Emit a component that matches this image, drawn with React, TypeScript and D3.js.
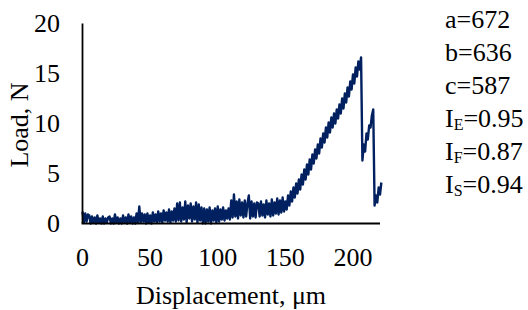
import React from "react";
import * as d3 from "d3";

const loadSeg0_44 = [
  1.2, 0.1, 1.0, 0.2, 0.9,
  0.8, 0.0, 0.7, 0.1, 0.6, 0.0, 0.8, 0.1, 0.5, 0.0, 0.7, 0.0, 0.5, 0.1, 0.6,
  0.7, 0.0, 0.5, 0.0, 0.9, 0.1, 0.6, 0.0, 0.5, 0.0, 0.8, 0.1, 0.6, 0.0, 0.9,
  0.1, 0.7, 0.0, 0.6, 0.0, 1.0, 0.1, 1.7, 0.1, 1.0,
];
const loadSeg45_109 = [
  0.2, 0.9, 0.0, 1.0, 0.1, 0.8, 0.0, 1.1, 0.2, 0.9, 0.1, 1.2, 0.2, 1.0, 0.1,
  1.3, 0.3, 1.1, 0.2, 1.4, 0.1, 1.2, 0.3, 1.5, 0.2,
  2.0, 0.3, 2.1, 0.2, 1.6, 0.4, 2.2, 0.1, 1.8, 0.5, 2.0, 0.2, 1.7, 0.4, 2.1,
  0.1, 1.9, 0.3, 1.6, 0.0,
  1.5, 0.0, 1.4, 0.2, 1.6, 0.0, 1.3, 0.3, 1.5, 0.1, 1.7, 0.2, 1.4, 0.4, 1.6,
  0.3, 1.3, 0.5, 1.5, 0.4,
];
const loadSeg110_150 = [
  2.3, 0.6, 2.9, 0.7, 2.2, 0.5, 2.4, 0.8, 2.1, 0.6, 2.3, 0.7, 2.0, 2.8, 0.5,
  2.2, 0.7, 2.0, 0.6, 2.1,
  2.0, 0.7, 2.2, 0.8, 1.9, 0.6, 2.3, 0.9, 2.0, 0.7, 2.4, 0.8, 2.1, 1.0, 2.5,
  0.9, 2.3, 1.1, 2.6, 1.2, 2.2,
];
const loadSeg151_206 = [
  1.4, 2.8, 1.8, 3.2, 2.2, 3.6, 2.6, 4.0, 3.0, 4.4,
  3.4, 4.9, 3.9, 5.4, 4.4, 5.9, 4.9, 6.4, 5.4, 6.9,
  6.0, 7.4, 6.5, 7.9, 7.0, 8.5, 7.6, 9.0, 8.1, 9.6,
  8.6, 10.1, 9.1, 10.6, 9.6, 11.0, 10.0, 11.4, 10.5, 11.9,
  11.0, 12.5, 11.5, 13.0, 12.1, 13.6, 12.7, 14.2, 13.4, 14.9,
  14.0, 15.6, 14.7, 16.2, 15.4, 16.6,
];
const loadSeg207_221 = [
  6.3, 7.9, 7.2, 9.0, 8.4, 9.8, 9.6, 10.8, 11.4,
  1.8, 2.8, 2.1, 3.6, 2.9, 4.1,
];
const loads = [
  ...loadSeg0_44,
  ...loadSeg45_109,
  ...loadSeg110_150,
  ...loadSeg151_206,
  ...loadSeg207_221,
];
const displacement = d3.range(0, loads.length); // 0..221 µm, 1 µm steps

const xTicks = [0, 50, 100, 150, 200];
const yTicks = [0, 5, 10, 15, 20];
const annotations: { main: string; sub?: string; value: string }[] = [
  { main: "a", value: "=672" },
  { main: "b", value: "=636" },
  { main: "c", value: "=587" },
  { main: "I", sub: "E", value: "=0.95" },
  { main: "I", sub: "F", value: "=0.87" },
  { main: "I", sub: "S", value: "=0.94" },
];

const W = 528;
const H = 310;
const FONT = '"Liberation Serif", "Times New Roman", "DejaVu Serif", serif';

export default function App() {
  const x = d3.scaleLinear().domain([0, 220]).range([82.5, 380]);
  const y = d3.scaleLinear().domain([0, 20]).range([223.5, 23.5]);
  const line = d3
    .line<number>()
    .x((_, i) => x(displacement[i]))
    .y((d) => y(d));
  const ts = { fontFamily: FONT };

  return (
    <svg
      width={W}
      height={H}
      style={{ position: "absolute", left: 0, top: 0, background: "#fff", fontFamily: FONT }}
    >
      <rect width={W} height={H} fill="#fff" />
      <path
        d={line(loads) ?? ""}
        fill="none"
        stroke="#002060"
        strokeWidth={2.4}
        strokeLinejoin="round"
      />
      {/* axes */}
      <line x1={x(0)} x2={x(0)} y1={y(20)} y2={y(0)} stroke="#000" strokeWidth={1.8} />
      <line x1={x(0) - 0.9} x2={x(220)} y1={y(0)} y2={y(0)} stroke="#000" strokeWidth={1.8} />
      {yTicks.map((t) => (
        <text
          key={"y" + t}
          x={60}
          y={y(t)}
          dy="0.34em"
          textAnchor="end"
          fontSize={26}
          fill="#000"
          style={ts}
        >
          {t}
        </text>
      ))}
      {xTicks.map((t) => (
        <text key={"x" + t} x={x(t)} y={266} textAnchor="middle" fontSize={26} fill="#000" style={ts}>
          {t}
        </text>
      ))}
      <text x={231} y={304} textAnchor="middle" fontSize={26} fill="#000" style={ts}>
        Displacement, μm
      </text>
      <text
        transform="translate(28,125) rotate(-90)"
        textAnchor="middle"
        fontSize={26}
        fill="#000"
        style={ts}
      >
        Load, N
      </text>
      {annotations.map((a, i) => (
        <text key={i} x={445} y={28 + i * 32.9} fontSize={26} fill="#000" style={ts}>
          {a.main}
          {a.sub ? (
            <>
              <tspan fontSize={16} dy={3}>
                {a.sub}
              </tspan>
              <tspan dy={-3}>{a.value}</tspan>
            </>
          ) : (
            a.value
          )}
        </text>
      ))}
    </svg>
  );
}
